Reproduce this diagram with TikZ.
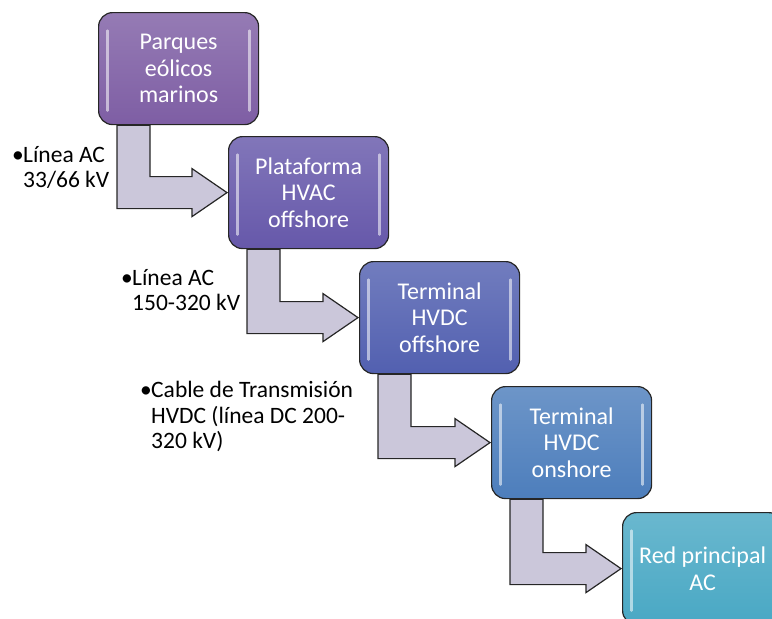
\documentclass[tikz,border=0pt]{standalone}
\usepackage{fontspec}
\setmainfont{Carlito}
\usetikzlibrary{calc,backgrounds}

\definecolor{parquescol}{RGB}{126,94,164}
\definecolor{platcol}{RGB}{102,88,170}
\definecolor{tofscol}{RGB}{82,96,176}
\definecolor{tonscol}{RGB}{77,126,188}
\definecolor{redcol}{RGB}{73,168,196}
\definecolor{flowfill}{RGB}{203,199,218}

\begin{document}
\begin{tikzpicture}[
x=1pt, y=-1pt,
box/.style={draw=black!85, line width=1.2pt, rounded corners=14pt,
  top color=#1!82!white, bottom color=#1, anchor=north west,
  minimum width=160pt, minimum height=112pt, inner sep=0pt,
  align=center, text=white,
  font=\fontsize{24}{26.5}\selectfont,
  path picture={
    \draw[white, opacity=0.55, line width=2.5pt, line cap=round]
      ([xshift=9pt,yshift=-18pt]path picture bounding box.north west) --
      ([xshift=9pt,yshift=14pt]path picture bounding box.south west)
      ([xshift=-9pt,yshift=-18pt]path picture bounding box.north east) --
      ([xshift=-9pt,yshift=14pt]path picture bounding box.south east);}},
flow/.style={draw=black!85, line width=1.2pt, fill=flowfill, line join=miter},
note/.style={anchor=west, inner sep=0pt, font=\fontsize{23.5}{25.5}\selectfont}
]
\useasboundingbox (0,0) rectangle (772,619);

% etapas
\node[box=parquescol](parques) at (98,12) {Parques\\eólicos\\marinos};
\node[box=platcol](plataforma) at (228,136) {Plataforma\\HVAC\\offshore};
\node[box=tofscol](tofs) at (359,261) {Terminal\\HVDC\\offshore};
\node[box=tonscol](tons) at (491,386) {Terminal\\HVDC\\onshore};
\node[box=redcol](red) at (622,512) {Red principal\\AC};

% flechas
\begin{scope}[on background layer]
\foreach \a/\b in {parques/plataforma, plataforma/tofs, tofs/tons, tons/red}
  \draw[flow] let \p1=(\a.south west), \p2=(\b.west) in
    (\x1+19pt,\y1) -- (\x1+52pt,\y1) -- (\x1+52pt,\y2+16pt) --
    (\x2-36pt,\y2+16pt) -- (\x2-36pt,\y2+24pt) -- (\x2-1pt,\y2) --
    (\x2-36pt,\y2-24pt) -- (\x2-36pt,\y2-16pt) -- (\x1+19pt,\y2-16pt) -- cycle;
\end{scope}

% lineas
\node[note](l1) at (12,170) {\begin{tabular}{@{}p{11pt}@{}l@{}}•&Línea AC\\&33/66 kV\end{tabular}};
\node[note](l2) at (121,293) {\begin{tabular}{@{}p{11pt}@{}l@{}}•&Línea AC\\&150-320 kV\end{tabular}};
\node[note](l3) at (140,418) {\begin{tabular}{@{}p{11pt}@{}l@{}}•&Cable de Transmisión\\&HVDC (línea DC 200-\\&320 kV)\end{tabular}};
\end{tikzpicture}
\end{document}
